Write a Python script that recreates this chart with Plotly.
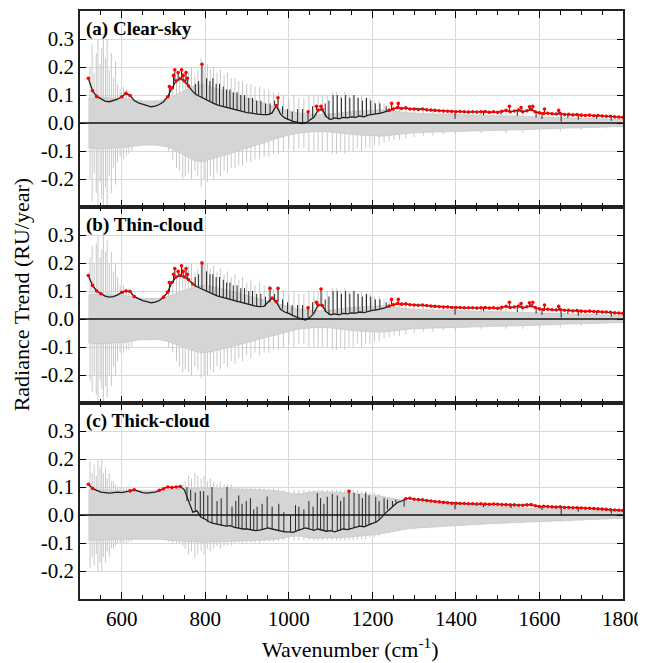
import plotly.graph_objects as go
from plotly.subplots import make_subplots

# ---------------- data ----------------
WN = list(range(520, 1801, 10))  # spectral grid (cm-1)

TREND_A = [
    0.160, 0.115, 0.095, 0.086, 0.078, 0.076, 0.080, 0.085, 0.094, 0.106,
    0.098, 0.080, 0.072, 0.068, 0.062, 0.058, 0.060, 0.066, 0.076, 0.094,
    0.124, 0.150, 0.158, 0.150, 0.132, 0.112, 0.100, 0.092, 0.086, 0.078,
    0.070, 0.064, 0.060, 0.056, 0.051, 0.047, 0.044, 0.041, 0.037, 0.035,
    0.032, 0.031, 0.030, 0.030, 0.036, 0.062, 0.032, 0.018, 0.012, 0.006,
    0.003, -0.002, 0.000, 0.010, 0.020, 0.046, 0.048, 0.022, 0.012, 0.018,
    0.015, 0.020, 0.018, 0.022, 0.020, 0.025, 0.022, 0.028, 0.030, 0.032,
    0.035, 0.040, 0.045, 0.050, 0.055, 0.052, 0.054, 0.050, 0.050, 0.048,
    0.050, 0.047, 0.046, 0.045, 0.044, 0.043, 0.042, 0.041, 0.040, 0.041,
    0.040, 0.039, 0.040, 0.039, 0.040, 0.041, 0.038, 0.040, 0.038, 0.042,
    0.045, 0.040, 0.043, 0.046, 0.040, 0.044, 0.048, 0.040, 0.036, 0.034,
    0.035, 0.033, 0.032, 0.034, 0.030, 0.031, 0.029, 0.030, 0.028, 0.027,
    0.028, 0.026, 0.027, 0.025, 0.024, 0.024, 0.022, 0.021, 0.020]
SIGMA_A = [
    0.088, 0.090, 0.092, 0.092, 0.090, 0.090, 0.089, 0.090, 0.088, 0.086,
    0.084, 0.082, 0.080, 0.079, 0.079, 0.078, 0.079, 0.080, 0.082, 0.086,
    0.092, 0.100, 0.108, 0.116, 0.124, 0.131, 0.136, 0.138, 0.135, 0.131,
    0.127, 0.123, 0.119, 0.114, 0.109, 0.104, 0.099, 0.094, 0.089, 0.084,
    0.079, 0.074, 0.069, 0.064, 0.059, 0.055, 0.051, 0.047, 0.043, 0.040,
    0.037, 0.035, 0.033, 0.032, 0.031, 0.030, 0.030, 0.030, 0.032, 0.034,
    0.036, 0.038, 0.040, 0.041, 0.042, 0.043, 0.044, 0.045, 0.046, 0.047,
    0.047, 0.046, 0.044, 0.042, 0.040, 0.038, 0.037, 0.036, 0.035, 0.034,
    0.034, 0.033, 0.033, 0.032, 0.032, 0.031, 0.031, 0.030, 0.030, 0.030,
    0.029, 0.029, 0.028, 0.028, 0.028, 0.027, 0.027, 0.026, 0.026, 0.026,
    0.025, 0.025, 0.024, 0.024, 0.024, 0.023, 0.023, 0.022, 0.022, 0.021,
    0.021, 0.020, 0.020, 0.019, 0.019, 0.018, 0.018, 0.017, 0.017, 0.016,
    0.016, 0.016, 0.015, 0.015, 0.014, 0.014, 0.013, 0.013, 0.013]

TREND_B = [
    0.155, 0.120, 0.100, 0.090, 0.082, 0.078, 0.080, 0.086, 0.095, 0.100,
    0.098, 0.080, 0.072, 0.066, 0.062, 0.058, 0.060, 0.066, 0.078, 0.096,
    0.130, 0.150, 0.155, 0.150, 0.140, 0.125, 0.115, 0.108, 0.100, 0.095,
    0.088, 0.082, 0.078, 0.072, 0.068, 0.064, 0.060, 0.056, 0.052, 0.050,
    0.046, 0.044, 0.045, 0.060, 0.075, 0.062, 0.035, 0.025, 0.020, 0.012,
    0.005, 0.000, -0.004, 0.005, 0.020, 0.050, 0.048, 0.025, 0.015, 0.018,
    0.015, 0.020, 0.018, 0.022, 0.021, 0.025, 0.023, 0.028, 0.031, 0.033,
    0.036, 0.040, 0.046, 0.051, 0.055, 0.053, 0.054, 0.051, 0.050, 0.049,
    0.050, 0.048, 0.046, 0.045, 0.044, 0.043, 0.043, 0.041, 0.041, 0.041,
    0.040, 0.040, 0.040, 0.039, 0.040, 0.041, 0.039, 0.040, 0.038, 0.042,
    0.045, 0.041, 0.043, 0.046, 0.040, 0.044, 0.047, 0.041, 0.036, 0.034,
    0.035, 0.033, 0.032, 0.034, 0.031, 0.031, 0.029, 0.030, 0.028, 0.027,
    0.028, 0.027, 0.027, 0.025, 0.025, 0.024, 0.022, 0.021, 0.020]
SIGMA_B = [
    0.085, 0.087, 0.088, 0.088, 0.087, 0.086, 0.086, 0.086, 0.085, 0.083,
    0.080, 0.077, 0.075, 0.074, 0.073, 0.073, 0.073, 0.074, 0.076, 0.080,
    0.085, 0.090, 0.096, 0.102, 0.108, 0.113, 0.117, 0.120, 0.120, 0.118,
    0.115, 0.111, 0.107, 0.103, 0.099, 0.095, 0.091, 0.087, 0.083, 0.079,
    0.075, 0.071, 0.067, 0.063, 0.059, 0.055, 0.051, 0.047, 0.043, 0.040,
    0.037, 0.035, 0.033, 0.032, 0.031, 0.030, 0.030, 0.030, 0.032, 0.034,
    0.036, 0.038, 0.040, 0.041, 0.042, 0.043, 0.044, 0.045, 0.046, 0.047,
    0.047, 0.046, 0.044, 0.042, 0.040, 0.038, 0.037, 0.036, 0.035, 0.034,
    0.034, 0.033, 0.033, 0.032, 0.032, 0.031, 0.031, 0.030, 0.030, 0.030,
    0.029, 0.029, 0.028, 0.028, 0.028, 0.027, 0.027, 0.026, 0.026, 0.026,
    0.025, 0.025, 0.024, 0.024, 0.024, 0.023, 0.023, 0.022, 0.022, 0.021,
    0.021, 0.020, 0.020, 0.019, 0.019, 0.018, 0.018, 0.017, 0.017, 0.016,
    0.016, 0.016, 0.015, 0.015, 0.014, 0.014, 0.013, 0.013, 0.013]

TREND_C = [
    0.110, 0.095, 0.088, 0.082, 0.080, 0.078, 0.080, 0.082, 0.080, 0.082,
    0.086, 0.090, 0.084, 0.080, 0.078, 0.080, 0.082, 0.088, 0.094, 0.100,
    0.098, 0.100, 0.102, 0.090, 0.050, 0.010, 0.015, -0.008, -0.015, -0.025,
    -0.030, -0.034, -0.038, -0.040, -0.038, -0.044, -0.047, -0.050, -0.050, -0.054,
    -0.056, -0.054, -0.050, -0.046, -0.050, -0.054, -0.058, -0.060, -0.060, -0.062,
    -0.056, -0.050, -0.046, -0.050, -0.055, -0.050, -0.054, -0.058, -0.056, -0.060,
    -0.055, -0.050, -0.052, -0.048, -0.045, -0.040, -0.042, -0.035, -0.030, -0.025,
    -0.012, 0.005, 0.020, 0.032, 0.045, 0.050, 0.058, 0.060, 0.056, 0.055,
    0.054, 0.052, 0.050, 0.048, 0.047, 0.045, 0.044, 0.042, 0.042, 0.041,
    0.041, 0.040, 0.040, 0.039, 0.040, 0.039, 0.038, 0.039, 0.038, 0.037,
    0.037, 0.036, 0.036, 0.035, 0.035, 0.036, 0.037, 0.033, 0.030, 0.031,
    0.030, 0.029, 0.028, 0.029, 0.027, 0.027, 0.026, 0.026, 0.025, 0.024,
    0.024, 0.023, 0.022, 0.021, 0.020, 0.019, 0.018, 0.017, 0.016]
SIGMA_C = [
    0.090, 0.090, 0.090, 0.089, 0.088, 0.088, 0.087, 0.087, 0.086, 0.086,
    0.085, 0.085, 0.085, 0.085, 0.085, 0.085, 0.086, 0.087, 0.088, 0.090,
    0.091, 0.092, 0.093, 0.094, 0.095, 0.096, 0.097, 0.097, 0.097, 0.096,
    0.096, 0.095, 0.095, 0.094, 0.094, 0.093, 0.093, 0.092, 0.092, 0.091,
    0.091, 0.090, 0.090, 0.089, 0.088, 0.087, 0.085, 0.082, 0.078, 0.076,
    0.075, 0.076, 0.080, 0.082, 0.083, 0.083, 0.083, 0.082, 0.082, 0.081,
    0.081, 0.080, 0.079, 0.078, 0.077, 0.076, 0.075, 0.074, 0.072, 0.070,
    0.067, 0.064, 0.060, 0.057, 0.054, 0.052, 0.050, 0.048, 0.047, 0.046,
    0.045, 0.044, 0.043, 0.042, 0.041, 0.040, 0.039, 0.038, 0.037, 0.036,
    0.035, 0.034, 0.033, 0.033, 0.032, 0.031, 0.031, 0.030, 0.030, 0.029,
    0.028, 0.028, 0.027, 0.026, 0.026, 0.025, 0.025, 0.024, 0.024, 0.023,
    0.022, 0.022, 0.021, 0.021, 0.020, 0.019, 0.019, 0.018, 0.018, 0.017,
    0.016, 0.016, 0.015, 0.015, 0.014, 0.014, 0.013, 0.013, 0.012]

# narrow spectral lines in the uncertainty range (half-height, symmetric about 0)
GS_WN = [524, 529, 534, 539, 543, 548, 552, 556, 561, 565, 570, 575, 580, 585, 590, 596, 604, 611, 617, 624,
         712, 722, 731, 738, 746, 752, 760, 767, 775, 782, 790, 797,
         805, 812, 820, 828, 836, 845, 853, 862, 871, 880, 889, 899, 909, 919, 930, 941, 952, 963, 975, 987,
         1000, 1012, 1024, 1036, 1048, 1060, 1070, 1080, 1092, 1104, 1114, 1124, 1134, 1144, 1154, 1164,
         1174, 1184, 1194, 1205, 1216, 1228, 1240, 1252, 1265, 1280, 1300, 1322, 1345, 1370, 1398,
         1460, 1520, 1560, 1600, 1650, 1700, 1760]
GS_A = [0.20, 0.28, 0.18, 0.25, 0.30, 0.21, 0.27, 0.32, 0.23, 0.30, 0.19, 0.25, 0.16, 0.22, 0.14, 0.12, 0.13, 0.12, 0.11, 0.10,
        0.10, 0.13, 0.16, 0.17, 0.20, 0.19, 0.18, 0.20, 0.17, 0.19, 0.23, 0.20,
        0.21, 0.19, 0.20, 0.18, 0.19, 0.17, 0.18, 0.16, 0.16, 0.15, 0.15, 0.14, 0.14, 0.13, 0.13, 0.12, 0.12, 0.11, 0.11, 0.10,
        0.09, 0.10, 0.09, 0.09, 0.10, 0.10, 0.10, 0.10, 0.10, 0.11, 0.11, 0.10, 0.11, 0.10, 0.10, 0.09,
        0.10, 0.09, 0.09, 0.08, 0.08, 0.07, 0.065, 0.06, 0.06, 0.055, 0.05, 0.045, 0.045, 0.04, 0.04,
        0.035, 0.035, 0.035, 0.03, 0.03, 0.025, 0.02]
GS_B = [0.22, 0.26, 0.20, 0.27, 0.30, 0.22, 0.25, 0.31, 0.24, 0.28, 0.20, 0.24, 0.17, 0.20, 0.15, 0.12, 0.12, 0.11, 0.11, 0.10,
        0.10, 0.12, 0.15, 0.17, 0.19, 0.18, 0.19, 0.20, 0.17, 0.18, 0.21, 0.20,
        0.20, 0.18, 0.19, 0.17, 0.18, 0.16, 0.17, 0.15, 0.16, 0.14, 0.15, 0.13, 0.14, 0.12, 0.13, 0.12, 0.12, 0.11, 0.11, 0.10,
        0.09, 0.10, 0.09, 0.09, 0.10, 0.10, 0.10, 0.10, 0.10, 0.11, 0.11, 0.10, 0.11, 0.10, 0.10, 0.09,
        0.10, 0.09, 0.09, 0.08, 0.08, 0.07, 0.065, 0.06, 0.06, 0.055, 0.05, 0.045, 0.045, 0.04, 0.04,
        0.035, 0.035, 0.035, 0.03, 0.03, 0.025, 0.02]
GS_C = [0.19, 0.15, 0.18, 0.14, 0.20, 0.17, 0.20, 0.15, 0.17, 0.13, 0.15, 0.12, 0.12, 0.11, 0.10, 0.10, 0.10, 0.10, 0.095, 0.095,
        0.095, 0.10, 0.10, 0.10, 0.11, 0.12, 0.14, 0.13, 0.15, 0.14, 0.13, 0.14,
        0.12, 0.13, 0.12, 0.11, 0.12, 0.11, 0.11, 0.11, 0.10, 0.10, 0.10, 0.10, 0.10, 0.10, 0.10, 0.095, 0.095, 0.095, 0.095, 0.09,
        0.085, 0.09, 0.09, 0.09, 0.09, 0.09, 0.09, 0.09, 0.09, 0.09, 0.09, 0.09, 0.09, 0.09, 0.09, 0.09,
        0.085, 0.085, 0.08, 0.08, 0.075, 0.07, 0.065, 0.06, 0.058, 0.055, 0.05, 0.045, 0.043, 0.04, 0.038,
        0.034, 0.03, 0.028, 0.025, 0.022, 0.02, 0.015]

# narrow lines in the trend itself (peak value, significant flag)
TS_WN_AB = [714, 724, 727, 735, 743, 747, 754, 757,
            776, 784, 792,
            803, 811, 818, 826, 834, 843, 851, 859, 867, 876, 885, 894,
            904, 913, 923, 933, 944, 955, 966, 974, 985, 997,
            1008, 1021, 1033, 1046, 1057, 1066, 1077, 1087, 1096,
            1106, 1116, 1126, 1136, 1146, 1156, 1166, 1176, 1186, 1196,
            1207, 1218, 1233, 1246, 1262,
            1398, 1466, 1508, 1528, 1547, 1556, 1576, 1584, 1592, 1606,
            1612, 1646, 1652, 1668, 1693, 1737, 1772]
TS_A = [0.13, 0.17, 0.19, 0.18, 0.19, 0.17, 0.18, 0.16,
        0.14, 0.15, 0.21,
        0.16, 0.15, 0.16, 0.14, 0.14, 0.13, 0.12, 0.12, 0.11, 0.11, 0.10, 0.10,
        0.09, 0.09, 0.08, 0.08, 0.07, 0.07, 0.08, 0.09, 0.06, 0.05,
        0.04, 0.05, 0.05, 0.04, 0.06, 0.06, 0.06, 0.07, 0.08,
        0.10, 0.10, 0.09, 0.10, 0.09, 0.10, 0.09, 0.08, 0.09, 0.08,
        0.07, 0.07, 0.06, 0.07, 0.07,
        0.015, 0.028, 0.03, 0.06, 0.025, 0.055, 0.058, 0.06, 0.02, 0.015,
        0.05, 0.045, 0.005, 0.018, 0.012, 0.015, 0.008]
SIG_A = [1, 1, 1, 1, 1, 1, 1, 1,
         0, 0, 1,
         0, 0, 0, 0, 0, 0, 0, 0, 0, 0, 0, 0,
         0, 0, 0, 0, 0, 0, 0, 1, 0, 0,
         0, 0, 0, 1, 0, 1, 1, 0, 0,
         0, 0, 0, 0, 0, 0, 0, 0, 0, 0,
         0, 0, 0, 1, 1,
         0, 0, 0, 1, 0, 1, 1, 1, 0, 0,
         1, 1, 0, 0, 0, 0, 0]
TS_B = [0.13, 0.16, 0.18, 0.17, 0.19, 0.17, 0.18, 0.16,
        0.15, 0.16, 0.20,
        0.17, 0.16, 0.16, 0.15, 0.15, 0.14, 0.13, 0.13, 0.12, 0.12, 0.11, 0.11,
        0.10, 0.10, 0.09, 0.09, 0.08, 0.11, 0.09, 0.11, 0.07, 0.06,
        0.05, 0.05, 0.05, 0.04, 0.06, 0.06, 0.107, 0.07, 0.08,
        0.10, 0.10, 0.09, 0.10, 0.09, 0.10, 0.09, 0.08, 0.09, 0.08,
        0.07, 0.07, 0.06, 0.07, 0.07,
        0.015, 0.028, 0.03, 0.06, 0.025, 0.055, 0.058, 0.06, 0.02, 0.015,
        0.05, 0.045, 0.005, 0.018, 0.012, 0.015, 0.008]
SIG_B = [1, 1, 1, 1, 1, 1, 1, 1,
         0, 0, 1,
         0, 0, 0, 0, 0, 0, 0, 0, 0, 0, 0, 0,
         0, 0, 0, 0, 0, 1, 0, 1, 0, 0,
         0, 0, 0, 1, 0, 1, 1, 0, 0,
         0, 0, 0, 0, 0, 0, 0, 0, 0, 0,
         0, 0, 0, 1, 1,
         0, 0, 0, 1, 0, 1, 1, 1, 0, 0,
         1, 1, 0, 0, 0, 0, 0]
TS_WN_C = [756, 765, 776, 788, 796, 806, 816, 828, 838, 852,
           864, 873, 880, 888, 898, 908, 916, 924, 936, 948,
           960, 976, 988, 1004, 1016, 1024, 1036, 1048, 1058, 1068,
           1076, 1084, 1092, 1104, 1116, 1124, 1132, 1144, 1156, 1168,
           1176, 1184, 1192, 1208, 1216, 1228, 1236, 1248, 1256, 1276,
           1398, 1466, 1532, 1606, 1652, 1693, 1772]
TS_C = [0.10, 0.09, 0.08, 0.085, 0.085, 0.07, 0.10, 0.05, 0.06, 0.10,
        0.03, 0.05, 0.07, 0.04, 0.05, 0.06, 0.02, 0.03, 0.04, 0.066,
        0.03, 0.04, 0.01, 0.00, 0.035, 0.03, 0.02, 0.05, 0.03, 0.078,
        0.06, 0.04, 0.065, 0.075, 0.07, 0.05, 0.065, 0.085, 0.08, 0.075,
        0.06, 0.08, 0.07, 0.065, 0.05, 0.06, 0.055, 0.05, 0.055, 0.03,
        0.02, 0.028, 0.025, 0.018, 0.0, 0.012, 0.005]
SIG_C = [0] * 37 + [1] + [0] * 19

PANEL_LABELS = ["(a) Clear-sky", "(b) Thin-cloud", "(c) Thick-cloud"]
Y_TICKS = [-0.2, -0.1, 0.0, 0.1, 0.2, 0.3]
Y_TICK_TEXT = ["-0.2", "-0.1", "0.0", "0.1", "0.2", "0.3"]

PANELS = [
    (TREND_A, SIGMA_A, GS_A, TS_WN_AB, TS_A, SIG_A),
    (TREND_B, SIGMA_B, GS_B, TS_WN_AB, TS_B, SIG_B),
    (TREND_C, SIGMA_C, GS_C, TS_WN_C, TS_C, SIG_C),
]

# ---------------- figure ----------------
FONT = "Liberation Serif, Times New Roman, serif"
fig = make_subplots(rows=3, cols=1, shared_xaxes=True, vertical_spacing=0)


def nearest_grid_value(series, w):
    k = min(range(len(WN)), key=lambda j: abs(WN[j] - w))
    return series[k]


for i, (trend, sigma, gs_h, ts_wn, ts_h, ts_sig) in enumerate(PANELS):
    row = i + 1
    # spectral-line spikes of the uncertainty range
    sx, sy = [], []
    for w, h in zip(GS_WN, gs_h):
        sx += [w, w, None]
        sy += [-h, h, None]
    fig.add_trace(go.Scatter(x=sx, y=sy, mode="lines", line=dict(color="#c8c8c8", width=1),
                             hoverinfo="skip"), row=row, col=1)
    # uncertainty band
    fig.add_trace(go.Scatter(x=WN, y=[-s for s in sigma], mode="lines",
                             line=dict(color="#c4c4c4", width=0.7)), row=row, col=1)
    fig.add_trace(go.Scatter(x=WN, y=list(sigma), mode="lines", fill="tonexty",
                             fillcolor="#d5d5d5", line=dict(color="#c4c4c4", width=0.7)),
                  row=row, col=1)
    # trend line
    fig.add_trace(go.Scatter(x=WN, y=trend, mode="lines",
                             line=dict(color="#1e1e1e", width=1.3)), row=row, col=1)
    # narrow lines in the trend
    tx, ty = [], []
    for w, h in zip(ts_wn, ts_h):
        tx += [w, w, None]
        ty += [nearest_grid_value(trend, w), h, None]
    fig.add_trace(go.Scatter(x=tx, y=ty, mode="lines", line=dict(color="#262626", width=1),
                             hoverinfo="skip"), row=row, col=1)
    # significant points
    red = [(w, t) for w, t, s in zip(WN, trend, sigma) if abs(t) > s]
    red += [(w, h) for w, h, g in zip(ts_wn, ts_h, ts_sig) if g]
    fig.add_trace(go.Scatter(x=[p[0] for p in red], y=[p[1] for p in red], mode="markers",
                             marker=dict(color="#ff0000", size=3.6, line=dict(width=0))),
                  row=row, col=1)
    fig.add_hline(y=0, row=row, col=1, line=dict(color="#111111", width=1.3), layer="above")

fig.update_xaxes(range=[500, 1800], tick0=0, dtick=200, ticks="inside", ticklen=7, tickwidth=1.2,
                 tickcolor="black", showline=True, linecolor="#222222", linewidth=1.5, mirror="ticks",
                 showgrid=True, gridcolor="#d9d9d9", gridwidth=1, zeroline=False,
                 minor=dict(dtick=50, tick0=0, ticks="inside", ticklen=4, tickcolor="black",
                            tickwidth=1, showgrid=False),
                 tickfont=dict(family=FONT, size=21, color="black"))
fig.update_yaxes(range=[-0.3, 0.4], tickvals=Y_TICKS, ticktext=Y_TICK_TEXT, ticks="inside",
                 ticklen=6, tickwidth=1.2, tickcolor="black", showline=True, linecolor="#222222",
                 linewidth=1.5, mirror="ticks", showgrid=True, gridcolor="#d9d9d9", gridwidth=1,
                 zeroline=False, tickfont=dict(family=FONT, size=21, color="black"))

annotations = []
for i, lab in enumerate(PANEL_LABELS):
    top = 1 - i / 3
    annotations.append(dict(text="<b>" + lab + "</b>", xref="paper", yref="paper", x=0.008,
                            y=top - 0.009, xanchor="left", yanchor="top", showarrow=False,
                            font=dict(family=FONT, size=19, color="black")))
annotations.append(dict(text="Radiance Trend (RU/year)", xref="paper", yref="paper", x=-0.107,
                        y=0.518, xanchor="center", yanchor="middle", textangle=-90, showarrow=False,
                        font=dict(family=FONT, size=22, color="black")))
annotations.append(dict(text="Wavenumber (cm<sup>-1</sup>)", xref="paper", yref="paper", x=0.499,
                        y=-0.084, xanchor="center", yanchor="middle", showarrow=False,
                        font=dict(family=FONT, size=22, color="black")))

# the page adds an 8 px body margin, so the figure is offset to land on the window
fig.update_layout(width=646, height=655, margin=dict(l=72, r=31, t=1, b=64),
                  plot_bgcolor="white", paper_bgcolor="white", showlegend=False,
                  font=dict(family=FONT, size=21, color="black"), annotations=annotations)

fig.write_html("out.html")
